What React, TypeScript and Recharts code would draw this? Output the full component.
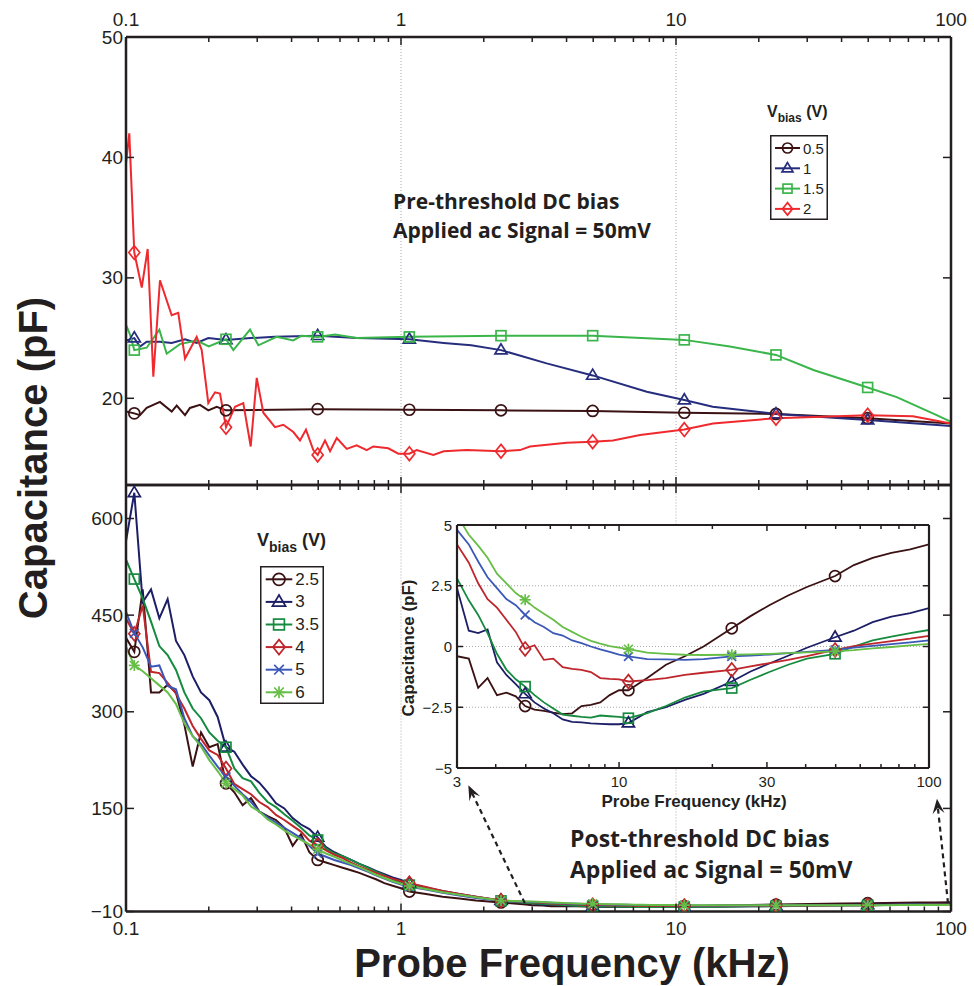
import React from "react";
import { ComposedChart, Line, XAxis, YAxis, ReferenceLine, CartesianGrid } from "recharts";

const W = 974;
const H = 986;
const INK = "#231f20";
const SANS = "'Liberation Sans', Arial, Helvetica, sans-serif";
const NOTE = "'Open Sans', 'Noto Sans', sans-serif";

// axis ticks
const F_TICKS = [0.1, 0.2, 0.3, 0.4, 0.5, 0.6, 0.7, 0.8, 0.9, 1, 2, 3, 4, 5, 6, 7, 8, 9, 10, 20, 30, 40, 50, 60, 70, 80, 90, 100];
const F_LABELS = [0.1, 1, 10, 100];
const TOP_C_TICKS = [20, 30, 40, 50];
const BOT_C_TICKS = [-10, 150, 300, 450, 600];
const IN_F_TICKS = [3, 4, 5, 6, 7, 8, 9, 10, 20, 30, 40, 50, 60, 70, 80, 90, 100];
const IN_F_LABELS = [3, 10, 30, 100];
const IN_C_TICKS = [-5, -2.5, 0, 2.5, 5];
const IN_C_GRID = [-2.5, 0, 2.5];

// frequencies (kHz) that carry a marker
const MARK_F = [0.1072, 0.231, 0.4977, 1.0723, 2.31, 4.977, 10.72, 23.1, 49.77];

// ---- top panel: pre-threshold bias
const T05_F = [0.1, 0.1072, 0.1124, 0.1189, 0.1329, 0.1466, 0.1529, 0.1639, 0.1708, 0.1858, 0.1992, 0.2137, 0.231, 0.4977, 1.0723, 2.31, 4.977, 10.72, 23.1, 49.77, 100];
const T05_V = [18.9, 18.75, 18.6, 19.2, 19.7, 18.9, 19.4, 18.6, 19.2, 19.45, 19.0, 19.3, 19.0, 19.1, 19.05, 19.0, 18.95, 18.8, 18.7, 18.35, 17.9];

const T1_F = [0.1, 0.1072, 0.1124, 0.1189, 0.1329, 0.1466, 0.1639, 0.1807, 0.1992, 0.231, 0.2841, 0.3482, 0.4977, 0.69, 1.0723, 1.43, 1.8, 2.31, 3.386, 4.977, 7.83, 10.72, 13.6, 23.1, 49.77, 100];
const T1_V = [24.8, 25.0, 24.3, 24.7, 24.7, 24.6, 24.9, 24.6, 25.0, 24.85, 25.0, 25.1, 25.2, 25.0, 24.9, 24.6, 24.4, 24.0, 22.9, 21.9, 20.55, 19.85, 19.3, 18.7, 18.2, 17.7];

const T15_F = [0.1, 0.1034, 0.1072, 0.1189, 0.1322, 0.1406, 0.1571, 0.1807, 0.2, 0.231, 0.2457, 0.2825, 0.3029, 0.3529, 0.4059, 0.4349, 0.4977, 0.5753, 0.69, 1.0723, 2.31, 4.977, 10.72, 15.7, 23.1, 31.6, 49.77, 63.5, 88.7, 100];
const T15_V = [26.1, 25.3, 24.0, 24.2, 25.7, 23.7, 24.5, 24.8, 24.3, 24.9, 24.0, 25.7, 24.4, 25.1, 24.8, 25.2, 25.1, 25.3, 25.0, 25.1, 25.2, 25.2, 24.85, 24.3, 23.6, 22.35, 20.9, 20.1, 18.6, 18.05];

const T2_F = [0.1, 0.1028, 0.1072, 0.1141, 0.1199, 0.1257, 0.1329, 0.1466, 0.1549, 0.1639, 0.1807, 0.1885, 0.1992, 0.2107, 0.2197, 0.231, 0.2491, 0.267, 0.2841, 0.2988, 0.3158, 0.3482, 0.3733, 0.4059, 0.4293, 0.4513, 0.4799, 0.4977, 0.5293, 0.552, 0.584, 0.6346, 0.69, 0.7505, 0.793, 0.899, 0.978, 1.0723, 1.14, 1.311, 1.43, 1.733, 2.31, 2.708, 2.944, 4.005, 4.977, 5.9, 7.4, 10.72, 13.63, 23.1, 49.77, 72.7, 100];
const T2_V = [39.5, 42.0, 32.1, 29.2, 32.4, 21.8, 29.8, 26.9, 27.1, 23.3, 25.1, 24.0, 19.6, 20.5, 20.4, 17.6, 19.3, 19.6, 16.0, 21.7, 18.8, 17.6, 17.8, 17.2, 16.5, 17.4, 15.7, 15.3, 16.5, 15.6, 16.7, 15.8, 16.1, 15.7, 16.0, 15.85, 15.4, 15.4, 15.7, 15.3, 15.6, 15.7, 15.6, 15.7, 16.0, 16.3, 16.4, 16.5, 16.95, 17.4, 17.9, 18.35, 18.6, 18.5, 17.9];

// ---- bottom panel: post-threshold bias, 0.1 - 2.85 kHz
const BOT_F = [0.1, 0.1072, 0.115, 0.1233, 0.1322, 0.1417, 0.152, 0.163, 0.1748, 0.1874, 0.2009, 0.2154, 0.231, 0.2477, 0.2656, 0.2848, 0.3054, 0.3275, 0.3511, 0.3765, 0.4037, 0.4329, 0.4642, 0.4977, 0.5337, 0.5722, 0.6136, 0.6579, 0.7055, 0.7565, 0.8111, 0.8697, 0.9326, 1.0, 1.0723, 1.233, 1.417, 1.63, 1.874, 2.31, 2.848];
const B25 = [415, 393, 490, 330, 330, 342, 330, 280, 215, 268, 245, 250, 189, 175, 155, 166, 145, 138, 132, 120, 92, 110, 82, 70, 66, 62, 58, 54, 50, 45, 40, 34, 30, 26, 21, 17, 13, 10, 7, 4, 1];
const B3 = [565, 640, 470, 490, 445, 475, 410, 388, 355, 330, 318, 292, 245, 238, 218, 200, 190, 175, 158, 150, 135, 125, 118, 105, 90, 82, 76, 70, 64, 59, 53, 48, 43, 39, 34, 27, 22, 17, 13, 7, 3.5];
const B35 = [536, 506, 476, 440, 402, 388, 365, 330, 305, 290, 268, 255, 245, 212, 197, 192, 174, 160, 152, 141, 131, 120, 108, 101, 88, 80, 76, 70, 64, 58, 52, 46, 40, 35, 31, 26, 21, 16, 12, 6.5, 3.5];
const B4 = [445, 421, 465, 362, 360, 345, 328, 305, 278, 258, 240, 233, 212, 188, 180, 172, 160, 152, 140, 132, 123, 114, 100, 93, 85, 78, 73, 66, 60, 55, 50, 45, 41, 37, 34, 28, 22, 17, 13, 7, 4.8];
const B5 = [455, 422, 400, 370, 372, 340, 335, 290, 262, 250, 232, 215, 199, 185, 172, 160, 145, 136, 128, 120, 112, 104, 92, 80, 75, 70, 66, 62, 57, 52, 46, 41, 36, 32, 28.5, 24, 19, 15, 11, 6.5, 5];
const B6 = [401, 372, 363, 352, 341, 330, 312, 282, 262, 246, 225, 208, 189, 180, 170, 153, 145, 133, 125, 116, 108, 101, 94, 86.5, 80, 75, 69, 64, 59, 53, 47, 42, 37, 33, 29.6, 25, 20, 16, 12, 7, 5.6];

// ---- inset: 3 - 100 kHz (also the tail of the bottom panel)
const IN_F = [3.0, 3.275, 3.511, 3.765, 4.037, 4.329, 4.642, 4.977, 5.337, 5.722, 6.136, 6.579, 7.055, 7.565, 8.111, 8.697, 9.326, 10.0, 10.72, 12.33, 14.17, 16.3, 18.74, 23.1, 26.56, 30.54, 35.11, 40.37, 49.77, 57.22, 65.79, 75.65, 86.97, 100];
const I25 = [-0.4, -0.5, -1.7, -1.3, -2.0, -1.9, -2.05, -2.45, -2.6, -2.65, -2.72, -2.78, -2.75, -2.45, -2.4, -2.3, -2.0, -1.8, -1.8, -1.3, -0.75, -0.4, 0.0, 0.75, 1.25, 1.7, 2.1, 2.45, 2.9, 3.35, 3.65, 3.85, 4.0, 4.2];
const I3 = [2.4, 0.65, 0.55, 0.7, -0.65, -1.17, -1.55, -1.95, -2.3, -2.55, -2.75, -3.0, -3.1, -3.12, -3.16, -3.18, -3.2, -3.2, -3.15, -2.7, -2.5, -2.2, -1.95, -1.44, -1.03, -0.7, -0.38, -0.05, 0.38, 0.65, 1.0, 1.23, 1.37, 1.58];
const I35 = [2.8, 1.9, 1.3, 0.55, -0.3, -0.95, -1.35, -1.65, -2.0, -2.3, -2.55, -2.8, -2.85, -2.9, -2.93, -2.84, -2.87, -2.9, -2.95, -2.74, -2.45, -2.1, -1.85, -1.71, -1.37, -1.05, -0.75, -0.5, -0.3, 0.0, 0.25, 0.41, 0.55, 0.68];
const I4 = [4.2, 3.45, 2.6, 1.95, 1.6, 1.1, 0.6, -0.1, 0.05, -0.55, -0.5, -0.85, -0.92, -0.96, -1.05, -1.3, -1.33, -1.35, -1.44, -1.38, -1.3, -1.17, -1.08, -0.96, -0.82, -0.68, -0.55, -0.4, -0.14, 0.02, 0.12, 0.22, 0.32, 0.44];
const I5 = [4.8, 4.2, 3.5, 2.85, 2.4, 1.95, 1.7, 1.3, 1.0, 0.8, 0.55, 0.45, 0.25, 0.14, 0.0, -0.12, -0.22, -0.33, -0.41, -0.52, -0.53, -0.55, -0.52, -0.41, -0.37, -0.33, -0.27, -0.22, -0.14, -0.05, 0.03, 0.1, 0.17, 0.25];
const I6 = [5.4, 4.6, 4.15, 3.65, 3.0, 2.6, 2.2, 1.92, 1.6, 1.35, 1.1, 0.8, 0.6, 0.4, 0.23, 0.12, 0.02, -0.05, -0.11, -0.25, -0.3, -0.34, -0.35, -0.34, -0.32, -0.3, -0.27, -0.24, -0.2, -0.15, -0.08, -0.02, 0.05, 0.11];

type Series = { name: string; color: string; shape: string; f: number[]; v: number[] };

const TOP_SERIES: Series[] = [
  { name: "0.5", color: "#3b1214", shape: "o", f: T05_F, v: T05_V },
  { name: "1", color: "#262d7d", shape: "^", f: T1_F, v: T1_V },
  { name: "1.5", color: "#3ab54a", shape: "s", f: T15_F, v: T15_V },
  { name: "2", color: "#ee2a2e", shape: "d", f: T2_F, v: T2_V },
];

const BOT_STYLE = [
  { name: "2.5", color: "#3b1214", shape: "o", low: B25, high: I25 },
  { name: "3", color: "#1c1e66", shape: "^", low: B3, high: I3 },
  { name: "3.5", color: "#168a3e", shape: "s", low: B35, high: I35 },
  { name: "4", color: "#bf262c", shape: "d", low: B4, high: I4 },
  { name: "5", color: "#3b58b8", shape: "x", low: B5, high: I5 },
  { name: "6", color: "#67be47", shape: "*", low: B6, high: I6 },
];

const BOT_SERIES: Series[] = BOT_STYLE.map((s) => ({
  name: s.name, color: s.color, shape: s.shape,
  f: BOT_F.concat(IN_F), v: s.low.concat(s.high),
}));
const IN_SERIES: Series[] = BOT_STYLE.map((s) => ({
  name: s.name, color: s.color, shape: s.shape, f: IN_F, v: s.high,
}));

const rows = (f: number[], v: number[]) => f.map((x, i) => ({ f: x, v: v[i] }));
const num = (v: number) => (v < 0 ? "\u2212" + Math.abs(v) : String(v));
const isMark = (f: number) => MARK_F.some((m) => Math.abs(m - f) / m < 0.002);

function Marker({ shape, cx, cy, color, r }: any) {
  const sw = 1.7;
  const st = { fill: "none", stroke: color, strokeWidth: sw };
  if (shape === "o") return <circle cx={cx} cy={cy} r={r} {...st} />;
  if (shape === "^")
    return <polygon points={`${cx},${cy - r * 1.15} ${cx - r * 1.1},${cy + r * 0.7} ${cx + r * 1.1},${cy + r * 0.7}`} {...st} />;
  if (shape === "s") return <rect x={cx - r * 0.9} y={cy - r * 0.9} width={r * 1.8} height={r * 1.8} {...st} />;
  if (shape === "d")
    return <polygon points={`${cx},${cy - r * 1.25} ${cx + r},${cy} ${cx},${cy + r * 1.25} ${cx - r},${cy}`} {...st} />;
  const k = r * 0.8;
  if (shape === "x")
    return (
      <g {...st}>
        <line x1={cx - k} y1={cy - k} x2={cx + k} y2={cy + k} />
        <line x1={cx - k} y1={cy + k} x2={cx + k} y2={cy - k} />
      </g>
    );
  return (
    <g {...st}>
      <line x1={cx - r} y1={cy} x2={cx + r} y2={cy} />
      <line x1={cx} y1={cy - r} x2={cx} y2={cy + r} />
      <line x1={cx - k} y1={cy - k} x2={cx + k} y2={cy + k} />
      <line x1={cx - k} y1={cy + k} x2={cx + k} y2={cy - k} />
    </g>
  );
}

const markDot = (s: Series, r: number) => (p: any) => {
  if (p.cx == null || p.cy == null || !isMark(p.payload.f)) return <g key={"d" + p.index} />;
  return <Marker key={"d" + p.index} shape={s.shape} cx={p.cx} cy={p.cy} color={s.color} r={r} />;
};

function FTick(p: any) {
  const { x, y, payload, side, labels, show, big, small, size, gap } = p;
  const v = payload.value;
  const major = labels.includes(v);
  const d = side === "top" ? 1 : -1;
  return (
    <g>
      <line x1={x} x2={x} y1={y} y2={y + d * (major ? big : small)} stroke={INK} strokeWidth={1.5} />
      {show && major && (
        <text x={x} y={y - d * gap} textAnchor="middle" dominantBaseline="central" fontFamily={SANS} fontSize={size} fill={INK}>
          {num(v)}
        </text>
      )}
    </g>
  );
}

function CTick(p: any) {
  const { x, y, payload, side, show, len, size, gap } = p;
  const d = side === "left" ? 1 : -1;
  return (
    <g>
      <line x1={x} x2={x + d * len} y1={y} y2={y} stroke={INK} strokeWidth={1.5} />
      {show && (
        <text x={x - gap} y={y} textAnchor="end" dominantBaseline="central" fontFamily={SANS} fontSize={size} fill={INK}>
          {num(payload.value)}
        </text>
      )}
    </g>
  );
}

function Arrow(p: any) {
  const { x1, y1, x2, y2 } = p;
  const a = Math.atan2(y2 - y1, x2 - x1);
  const c = Math.cos(a), s = Math.sin(a);
  const L = 15, w = 6;
  const bx = x2 - L * c, by = y2 - L * s;
  const nx = x2 - L * 0.6 * c, ny = y2 - L * 0.6 * s;
  return (
    <g>
      <line x1={x1} y1={y1} x2={nx} y2={ny} stroke={INK} strokeWidth={2.2} strokeDasharray="5 4" />
      <polygon points={`${x2},${y2} ${bx - s * w},${by + c * w} ${nx},${ny} ${bx + s * w},${by - c * w}`} fill={INK} />
    </g>
  );
}

const AX = { stroke: INK, strokeWidth: 2.5 };
const GRID = { stroke: "#a9a9a9", strokeWidth: 1, strokeDasharray: "1 2" };

// axes take 1px each (a 0px axis is not drawn), so margins are 1px smaller than the plot box
function axesFor(yDomain: number[], yTicks: number[], showTop: boolean, showBottom: boolean) {
  return [
    <XAxis key="xb" dataKey="f" type="number" scale="log" domain={[0.1, 100]} allowDataOverflow ticks={F_TICKS} interval={0}
      height={1} tickSize={0} tickMargin={0} tickLine={false} axisLine={AX}
      tick={(p: any) => <FTick {...p} side="bottom" labels={F_LABELS} show={showBottom} big={8} small={5} size={19} gap={17} />} />,
    <XAxis key="xt" xAxisId="t" orientation="top" dataKey="f" type="number" scale="log" domain={[0.1, 100]} allowDataOverflow ticks={F_TICKS} interval={0}
      height={1} tickSize={0} tickMargin={0} tickLine={false} axisLine={AX}
      tick={(p: any) => <FTick {...p} side="top" labels={F_LABELS} show={showTop} big={8} small={5} size={19} gap={18} />} />,
    <YAxis key="yl" type="number" domain={yDomain} allowDataOverflow ticks={yTicks} interval={0}
      width={1} tickSize={0} tickMargin={0} tickLine={false} axisLine={AX}
      tick={(p: any) => <CTick {...p} side="left" show len={8} size={19} gap={3} />} />,
    <YAxis key="yr" yAxisId="r" orientation="right" type="number" domain={yDomain} allowDataOverflow ticks={yTicks} interval={0}
      width={1} tickSize={0} tickMargin={0} tickLine={false} axisLine={AX}
      tick={(p: any) => <CTick {...p} side="right" show={false} len={8} size={19} gap={3} />} />,
  ];
}

function seriesLines(list: Series[], r: number, w: number) {
  return list.map((s) => (
    <Line key={s.name} data={rows(s.f, s.v)} dataKey="v" type="linear" stroke={s.color} strokeWidth={w}
      dot={markDot(s, r)} activeDot={false} isAnimationActive={false} />
  ));
}

function TopPanel() {
  return (
    <ComposedChart width={W} height={H} margin={{ top: 36, right: 22, bottom: H - 485 - 1, left: 125 }}>
      {axesFor([12.8, 50], TOP_C_TICKS, true, false)}
      <ReferenceLine x={1} {...GRID} />
      <ReferenceLine x={10} {...GRID} />
      {seriesLines(TOP_SERIES, 5.5, 2)}
    </ComposedChart>
  );
}

function BottomPanel() {
  return (
    <ComposedChart width={W} height={H} margin={{ top: 484, right: 22, bottom: H - 911.5 - 1, left: 125 }}>
      {axesFor([-10, 652], BOT_C_TICKS, false, true)}
      <ReferenceLine x={1} {...GRID} />
      <ReferenceLine x={10} {...GRID} />
      {seriesLines(BOT_SERIES, 5.5, 2)}
      <ReferenceLine ifOverflow="visible" segment={[{ x: 2.82, y: 3 }, { x: 1.757, y: 186 }]} shape={Arrow} />
      <ReferenceLine ifOverflow="visible" segment={[{ x: 97.5, y: 3 }, { x: 88.9, y: 165 }]} shape={Arrow} />
    </ComposedChart>
  );
}

const IAX = { stroke: INK, strokeWidth: 2.2 };

function InsetPanel() {
  return (
    <ComposedChart width={W} height={H} margin={{ top: 524, right: W - 929 - 1, bottom: H - 768 - 1, left: 456 }}>
      <CartesianGrid fill="#fff" horizontal={false} vertical={false} />
      <XAxis dataKey="f" type="number" scale="log" domain={[3, 100]} allowDataOverflow ticks={IN_F_TICKS} interval={0}
        height={1} tickSize={0} tickMargin={0} tickLine={false} axisLine={IAX}
        tick={(p: any) => <FTick {...p} side="bottom" labels={IN_F_LABELS} show big={6} small={4} size={15} gap={13} />} />
      <XAxis xAxisId="t" orientation="top" dataKey="f" type="number" scale="log" domain={[3, 100]} allowDataOverflow ticks={IN_F_TICKS} interval={0}
        height={1} tickSize={0} tickMargin={0} tickLine={false} axisLine={IAX}
        tick={(p: any) => <FTick {...p} side="top" labels={IN_F_LABELS} show={false} big={6} small={4} size={15} gap={13} />} />
      <YAxis type="number" domain={[-5, 5]} allowDataOverflow ticks={IN_C_TICKS} interval={0}
        width={1} tickSize={0} tickMargin={0} tickLine={false} axisLine={IAX}
        tick={(p: any) => <CTick {...p} side="left" show len={6} size={15} gap={5} />} />
      <YAxis yAxisId="r" orientation="right" type="number" domain={[-5, 5]} allowDataOverflow ticks={IN_C_TICKS} interval={0}
        width={1} tickSize={0} tickMargin={0} tickLine={false} axisLine={IAX}
        tick={(p: any) => <CTick {...p} side="right" show={false} len={6} size={15} gap={5} />} />
      {IN_C_GRID.map((g) => <ReferenceLine key={g} y={g} {...GRID} />)}
      {seriesLines(IN_SERIES, 5.5, 1.8)}
    </ComposedChart>
  );
}

function LegendBox({ list, left, top, width, height, first, step, pad, len, size, r }: any) {
  return (
    <svg style={{ position: "absolute", left, top }} width={width} height={height}>
      <rect x={0.75} y={0.75} width={width - 1.5} height={height - 1.5} fill="#fff" stroke={INK} strokeWidth={1.5} />
      {list.map((s: Series, i: number) => {
        const cy = first + i * step;
        return (
          <g key={s.name}>
            <line x1={pad} x2={pad + len} y1={cy} y2={cy} stroke={s.color} strokeWidth={2} />
            <Marker shape={s.shape} cx={pad + len / 2} cy={cy} color={s.color} r={r} />
            <text x={pad + len + 3} y={cy} dominantBaseline="central" fontFamily={SANS} fontSize={size} fill={INK}>
              {s.name}
            </text>
          </g>
        );
      })}
    </svg>
  );
}

function Overlay() {
  return (
    <svg style={{ position: "absolute", left: 0, top: 0, pointerEvents: "none" }} width={W} height={H}>
      <text transform="translate(47,458) rotate(-90)" textAnchor="middle" fontFamily={SANS} fontWeight="bold" fontSize={40} fill={INK}>
        Capacitance (pF)
      </text>
      <text x={572} y={977} textAnchor="middle" fontFamily={SANS} fontWeight="bold" fontSize={40} fill={INK}>
        Probe Frequency (kHz)
      </text>
      <text transform="translate(414,648) rotate(-90)" textAnchor="middle" fontFamily={SANS} fontWeight="bold" fontSize={17} fill={INK}>
        Capacitance (pF)
      </text>
      <text x={694} y={807} textAnchor="middle" fontFamily={SANS} fontWeight="bold" fontSize={17} fill={INK}>
        Probe Frequency (kHz)
      </text>
      <g fontFamily={NOTE} fontWeight="bold" fill={INK}>
        <text x={393} y={209} fontSize={21}>Pre-threshold DC bias</text>
        <text x={393} y={238} fontSize={21}>Applied ac Signal = 50mV</text>
        <text x={570} y={847} fontSize={23}>Post-threshold DC bias</text>
        <text x={570} y={878} fontSize={23}>Applied ac Signal = 50mV</text>
      </g>
      <g fontFamily={SANS} fontWeight="bold" fill={INK}>
        <text x={767} y={117} fontSize={16}>
          V<tspan dy={5} fontSize={12}>bias</tspan><tspan dy={-5}> (V)</tspan>
        </text>
        <text x={257} y={546} fontSize={18}>
          V<tspan dy={6} fontSize={14}>bias</tspan><tspan dy={-6}> (V)</tspan>
        </text>
      </g>
    </svg>
  );
}

export default function App() {
  return (
    <div style={{ position: "absolute", left: 0, top: 0, width: W, height: H, background: "#fff", overflow: "hidden" }}>
      <div style={{ position: "absolute", left: 0, top: 0 }}><TopPanel /></div>
      <div style={{ position: "absolute", left: 0, top: 0 }}><BottomPanel /></div>
      <div style={{ position: "absolute", left: 0, top: 0 }}><InsetPanel /></div>
      <LegendBox list={TOP_SERIES} left={770} top={135} width={58} height={85} first={13} step={20.3} pad={5} len={25} size={15} r={5} />
      <LegendBox list={BOT_SERIES} left={260} top={566} width={64} height={138} first={13.3} step={22.6} pad={5.7} len={26.6} size={17} r={6} />
      <Overlay />
    </div>
  );
}
